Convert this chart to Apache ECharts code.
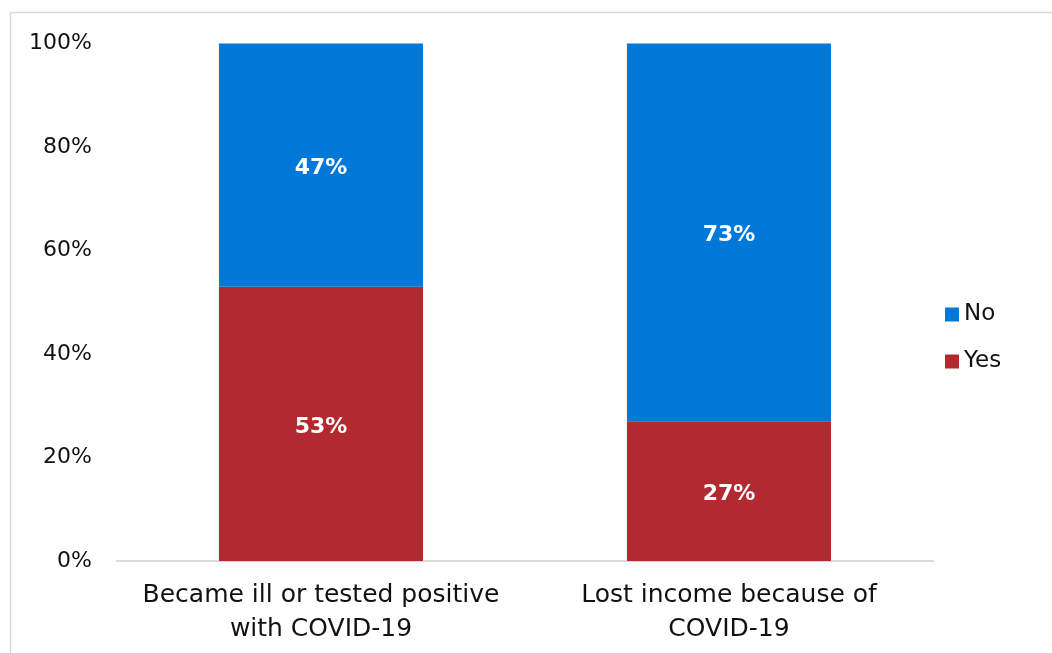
<!DOCTYPE html>
<html><head><meta charset="utf-8">
<script src="https://cdn.jsdelivr.net/npm/echarts@6/dist/echarts.min.js"></script>
<style>html,body{margin:0;padding:0;background:#fff}#c{width:1052px;height:653px}</style>
</head><body><div id="c"></div>
<script>
const categories = ['Became ill or tested positive\nwith COVID-19', 'Lost income because of\nCOVID-19'];
const yesValues = [53, 27];
const noValues = [47, 73];
const seriesNames = ['Yes', 'No'];
const FONT = '"DejaVu Sans", sans-serif';

const chart = echarts.init(document.getElementById('c'), null, {renderer: 'canvas'});
const labelStyle = {show: true, position: 'inside', offset: [0, 3], color: '#fff', fontWeight: 'bold', fontSize: 22, fontFamily: FONT, formatter: p => p.value + '%'};
chart.setOption({
  animation: false,
  graphic: [{type: 'rect', shape: {x: 10.5, y: 12.5, width: 1100, height: 700}, style: {fill: 'none', stroke: '#d9d9d9', lineWidth: 1.5}, silent: true}],
  grid: {left: 117, right: 119, top: 43.5, bottom: 92},
  legend: {
    orient: 'vertical', left: 945, top: 303, padding: 0, itemWidth: 14, itemHeight: 14, itemGap: 24,
    data: ['No', 'Yes'],
    textStyle: {fontSize: 23, fontFamily: FONT, color: '#111'},
    icon: 'rect'
  },
  xAxis: {
    type: 'category', data: categories,
    axisLine: {lineStyle: {color: '#d9d9d9', width: 2}},
    axisTick: {show: false},
    axisLabel: {fontSize: 25, fontFamily: FONT, color: '#111', lineHeight: 34, margin: 17, interval: 0}
  },
  yAxis: {
    type: 'value', min: 0, max: 100, interval: 20,
    splitLine: {show: false}, axisLine: {show: false}, axisTick: {show: false},
    axisLabel: {formatter: '{value}%', fontSize: 22, fontFamily: FONT, color: '#111', margin: 25, lineHeight: 22, verticalAlign: 'middle', padding: [4, 0, 0, 0]}
  },
  series: [
    {name: seriesNames[0], type: 'bar', stack: 'a', barWidth: '50%', data: yesValues, itemStyle: {color: '#B22930'}, label: labelStyle},
    {name: seriesNames[1], type: 'bar', stack: 'a', barWidth: '50%', data: noValues, itemStyle: {color: '#0078D7'}, label: labelStyle}
  ]
});
</script></body></html>
